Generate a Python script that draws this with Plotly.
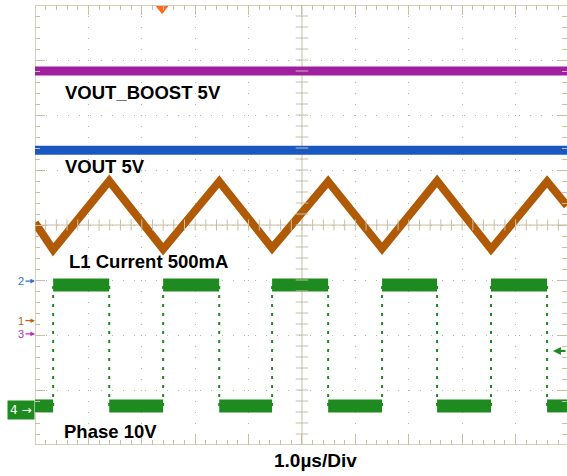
import plotly.graph_objects as go

# Scope capture: 1 µs per horizontal division, 8 vertical divisions (levels in div).
x_span = [0.0, 9.963]          # visible part of the 10-division screen
y_span = [-4.0, 4.0]

vout_boost_level = 2.80        # VOUT_BOOST 5V trace
vout_level = 1.36              # VOUT 5V trace

# Switch-node edges (µs) shared by the phase and inductor-current traces
rise_t = [0.34, 2.40, 4.44, 6.50, 8.54]
fall_t = [1.39, 3.45, 5.49, 7.53, 9.59]

# L1 current: triangle vertices
il_t = [0.00, 0.34, 1.39, 2.40, 3.45, 4.44, 5.49, 6.50, 7.53, 8.54, 9.59, 9.963]
il_v = [0.04, -0.45, 0.80, -0.44, 0.79, -0.42, 0.79, -0.43, 0.80, -0.44, 0.79, 0.35]

# Phase node levels
phase_high = -1.09
phase_low = -3.29

# Channel ground markers on the left edge
ch_names = ["2", "1", "3"]
ch_levels = [-1.02, -1.74, -1.98]
ch_colors = ["#2f6fd6", "#b8651a", "#c02ac0"]
ch4_level = -3.36

trigger_t = 2.38
trigger_level = -2.29

PURPLE = "#a01ea0"
BLUE = "#1858c0"
BROWN = "#b05a06"
GREEN = "#1f8a1f"
FRAME = "#c9bfa3"
GRID = "#b4b4b4"

fig = go.Figure()

# Flat supply rails
fig.add_trace(go.Scatter(x=x_span, y=[vout_boost_level] * 2, mode="lines",
                         line=dict(color=PURPLE, width=9), hoverinfo="skip"))
fig.add_trace(go.Scatter(x=x_span, y=[vout_level] * 2, mode="lines",
                         line=dict(color=BLUE, width=9), hoverinfo="skip"))

# Inductor current triangle
fig.add_trace(go.Scatter(x=il_t, y=il_v, mode="lines",
                         line=dict(color=BROWN, width=8), hoverinfo="skip"))

# Phase node: flat levels between edges, thin dotted transitions
edges = sorted([(t, "r") for t in rise_t] + [(t, "f") for t in fall_t])
seg_x, seg_y = [], []
start, level = x_span[0], phase_low
for t, kind in edges:
    seg_x += [start, t, None]
    seg_y += [level, level, None]
    start = t
    level = phase_high if kind == "r" else phase_low
seg_x += [start, x_span[1]]
seg_y += [level, level]
fig.add_trace(go.Scatter(x=seg_x, y=seg_y, mode="lines",
                         line=dict(color=GREEN, width=13), hoverinfo="skip"))
edge_x, edge_y = [], []
for t, _ in edges:
    edge_x += [t, t, None]
    edge_y += [phase_low, phase_high, None]
fig.add_trace(go.Scatter(x=edge_x, y=edge_y, mode="lines",
                         line=dict(color=GREEN, width=2, dash="3px,6px"),
                         hoverinfo="skip"))

# Graticule centre lines with their cross ticks
minor_x = [i * 0.2 for i in range(50) if i * 0.2 <= x_span[1]]
minor_y = [-4 + i * 0.2 for i in range(41)]
fig.add_shape(type="line", x0=5, x1=5, y0=-4, y1=4, line=dict(color=FRAME, width=1), layer="below")
fig.add_shape(type="line", x0=0, x1=x_span[1], y0=0, y1=0, line=dict(color=FRAME, width=1), layer="below")
fig.add_trace(go.Scatter(x=minor_x, y=[0] * len(minor_x), mode="markers",
                         marker=dict(symbol="line-ns", size=8, line=dict(color=FRAME, width=1)),
                         hoverinfo="skip"))
fig.add_trace(go.Scatter(x=[5] * len(minor_y), y=minor_y, mode="markers",
                         marker=dict(symbol="line-ew", size=9, line=dict(color=FRAME, width=1)),
                         hoverinfo="skip"))

# Frame lines (left, top, bottom)
for x0, x1, y0, y1 in [(0, 0, -4, 4), (0, x_span[1], 4, 4), (0, x_span[1], -4, -4)]:
    fig.add_shape(type="line", x0=x0, x1=x1, y0=y0, y1=y1,
                  line=dict(color=FRAME, width=1.5), layer="below")

# Trigger position marker
fig.add_trace(go.Scatter(x=[trigger_t], y=[3.93], mode="markers", cliponaxis=False,
                         marker=dict(symbol="triangle-down", size=11, color="#ff6a1e"),
                         hoverinfo="skip"))

label_font = dict(family="Liberation Sans, Arial, sans-serif", size=18.5, color="black", weight="bold")
labels = [("VOUT_BOOST 5V", 0.52, 2.41), ("VOUT 5V", 0.52, 1.06),
          ("L1 Current 500mA", 0.60, -0.67), ("Phase 10V", 0.51, -3.76)]
for txt, lx, ly in labels:
    fig.add_annotation(x=lx, y=ly, text=txt, showarrow=False, xanchor="left",
                       yanchor="middle", font=label_font)

fig.add_annotation(x=0.528, y=-0.036, xref="paper", yref="paper", text="1.0µs/Div",
                   showarrow=False, xanchor="center", yanchor="middle",
                   font=dict(family="Liberation Sans, Arial, sans-serif", size=19,
                             color="black", weight="bold"))

# Channel markers
for name, lvl, col in zip(ch_names, ch_levels, ch_colors):
    fig.add_annotation(x=0, y=lvl, xref="paper", yref="y", text=name, showarrow=True,
                       ax=-14, ay=0, arrowhead=2, arrowsize=0.7, arrowwidth=1.3,
                       arrowcolor=col, font=dict(family="Liberation Sans, Arial", size=11, color=col))
fig.add_annotation(x=0, y=ch4_level, xref="paper", yref="y", text="4 →", showarrow=False,
                   xanchor="right", yanchor="middle", bgcolor=GREEN, borderpad=2,
                   font=dict(family="DejaVu Sans, Arial", size=12, color="white"))

# Trigger level arrow on the right edge
fig.add_annotation(x=9.70, y=trigger_level, text="", showarrow=True, ax=16, ay=0,
                   arrowhead=2, arrowsize=0.8, arrowwidth=2, arrowcolor=GREEN)

axis_common = dict(showgrid=True, gridcolor=GRID, griddash="1px,10px", gridwidth=1,
                   zeroline=False, showticklabels=False, showline=False,
                   ticks="inside", ticklen=10, tickcolor=FRAME, tickwidth=1,
                   mirror="ticks", dtick=1, tick0=0,
                   minor=dict(dtick=0.2, tick0=0, ticks="inside", ticklen=5,
                              tickcolor=FRAME, showgrid=False))
fig.update_xaxes(range=x_span, **axis_common)
fig.update_yaxes(range=y_span, **axis_common)

fig.update_layout(width=567, height=476, margin=dict(l=35, r=0, t=5, b=31),
                  paper_bgcolor="white", plot_bgcolor="white", showlegend=False)

fig.write_html("out.html")
